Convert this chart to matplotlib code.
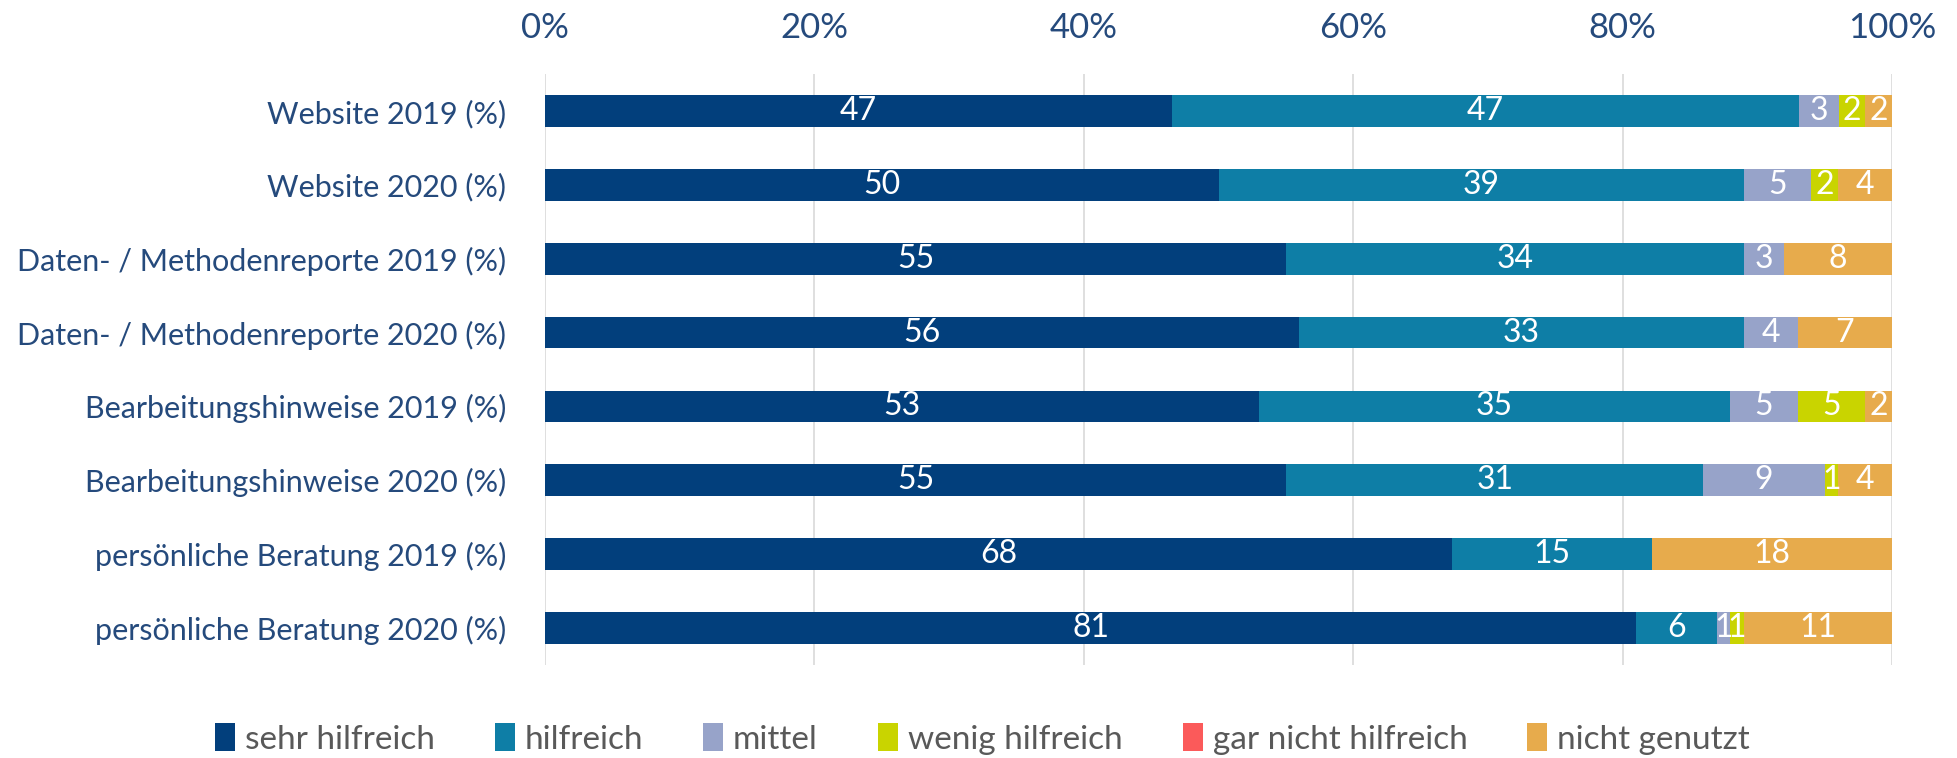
import matplotlib
matplotlib.use("Agg")
import matplotlib.pyplot as plt
import numpy as np

plt.rcParams["font.family"] = ["Lato", "DejaVu Sans"]

categories = [
    "Website 2019 (%)",
    "Website 2020 (%)",
    "Daten- / Methodenreporte 2019 (%)",
    "Daten- / Methodenreporte 2020 (%)",
    "Bearbeitungshinweise 2019 (%)",
    "Bearbeitungshinweise 2020 (%)",
    "persönliche Beratung 2019 (%)",
    "persönliche Beratung 2020 (%)",
]
series_names = ["sehr hilfreich", "hilfreich", "mittel", "wenig hilfreich",
                "gar nicht hilfreich", "nicht genutzt"]
sehr_hilfreich = [47, 50, 55, 56, 53, 55, 68, 81]
hilfreich = [47, 39, 34, 33, 35, 31, 15, 6]
mittel = [3, 5, 3, 4, 5, 9, 0, 1]
wenig_hilfreich = [2, 2, 0, 0, 5, 1, 0, 1]
gar_nicht_hilfreich = [0, 0, 0, 0, 0, 0, 0, 0]
nicht_genutzt = [2, 4, 8, 7, 2, 4, 18, 11]

colors = ["#023f7c", "#0e7ea6", "#97a3c9", "#c9d400", "#fb5a5a", "#e7ab4c"]
label_color = "#254a7c"

values = np.array([sehr_hilfreich, hilfreich, mittel, wenig_hilfreich,
                   gar_nicht_hilfreich, nicht_genutzt], dtype=float)
shares = values / values.sum(axis=0) * 100

fig = plt.figure(figsize=(19.57, 7.58), dpi=100)
ax = fig.add_axes([0.2785, 0.123, 0.6883, 0.779])

y = np.arange(len(categories))
left = np.zeros(len(categories))
for i, name in enumerate(series_names):
    bars = ax.barh(y, shares[i], left=left, height=0.43, color=colors[i],
                   label=name, zorder=2)
    for j, bar in enumerate(bars):
        if values[i, j] > 0:
            ax.text(left[j] + shares[i, j] / 2, y[j], f"{int(values[i, j])}",
                    ha="center", va="center", color="white", fontsize=23,
                    zorder=3)
    left += shares[i]

ax.set_xlim(0, 100)
ax.set_ylim(len(categories) - 0.5, -0.5)
ax.set_yticks(y)
ax.set_yticklabels(categories, fontsize=22, color=label_color)
ax.set_xticks(np.arange(0, 101, 20))
ax.set_xticklabels([f"{t}%" for t in range(0, 101, 20)], fontsize=25,
                   color=label_color)
ax.xaxis.tick_top()
ax.tick_params(axis="both", length=0)
ax.tick_params(axis="x", pad=22)
ax.tick_params(axis="y", pad=28)
ax.grid(axis="x", color="#d9d9d9", linewidth=1.2, zorder=0)
for s in ax.spines.values():
    s.set_visible(False)

fig.legend(loc="center", bbox_to_anchor=(0.502, 0.025), ncol=6, frameon=False,
           fontsize=24, labelcolor="#595959", handlelength=0.6,
           handleheight=0.9, handletextpad=0.3, columnspacing=1.8)

fig.savefig("out.png", dpi=100, facecolor="white")
